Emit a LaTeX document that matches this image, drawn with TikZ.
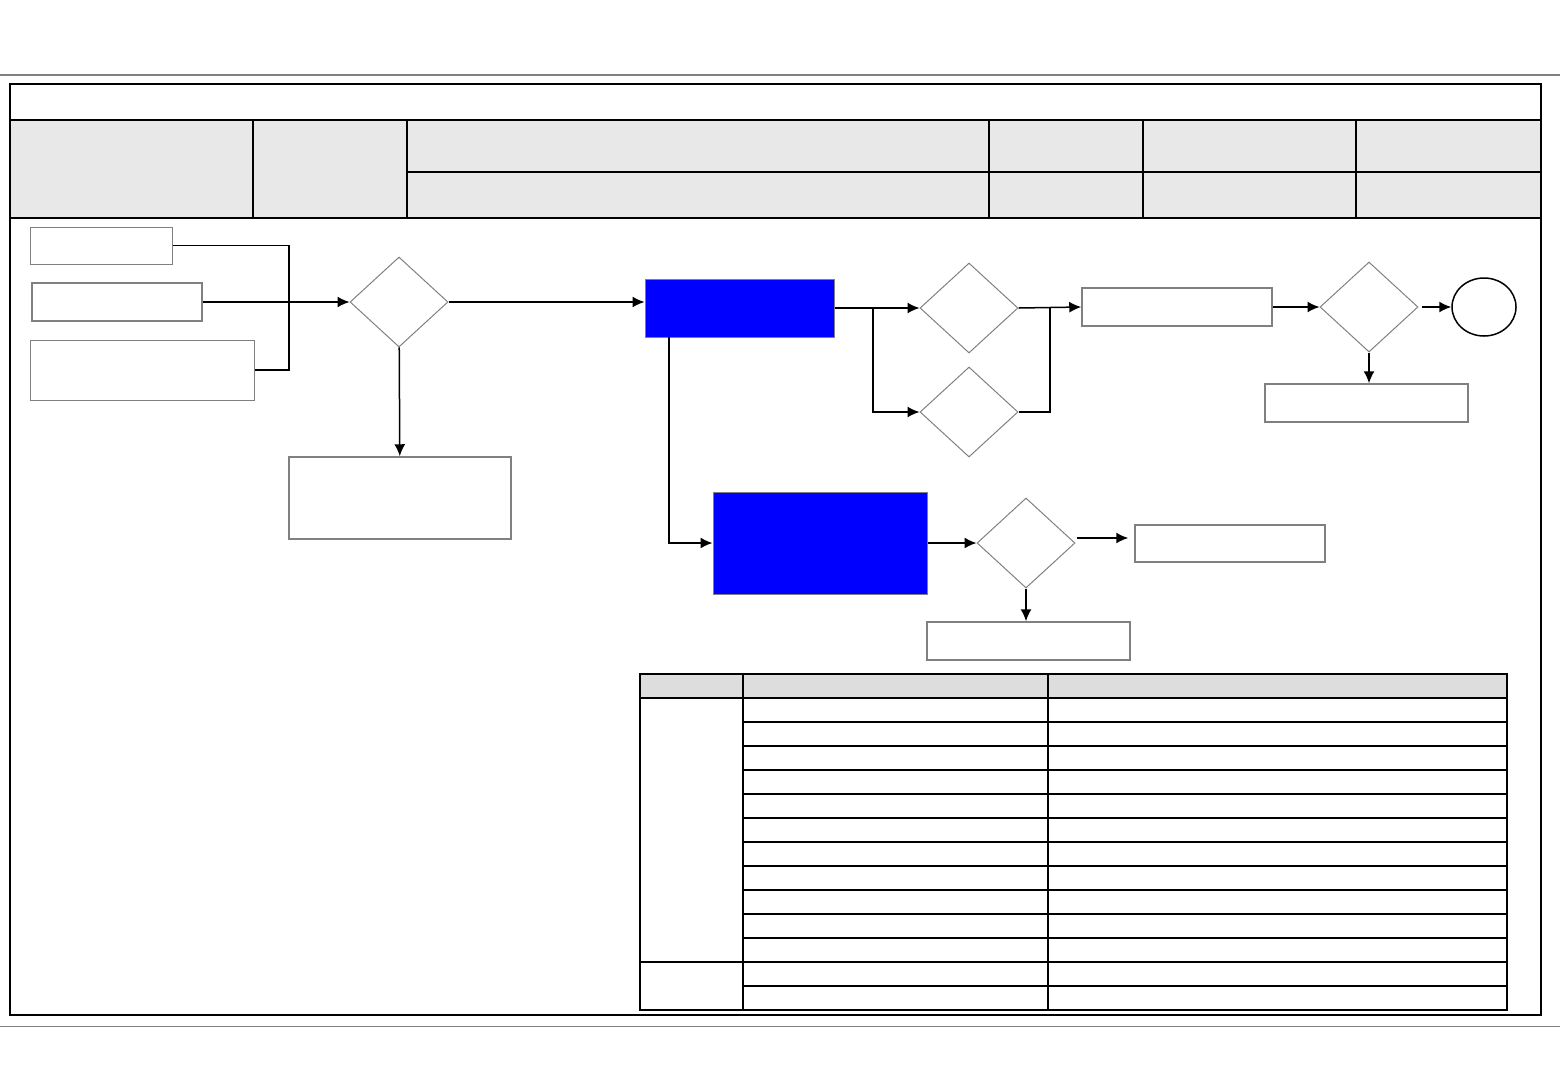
\documentclass[tikz,border=0pt]{standalone}
\usepackage{xcolor}
\usepackage{tikz}
\tikzset{>=latex}
\usetikzlibrary{
    positioning, % relative placement
    arrows.meta, % arrow tips
    shapes.geometric % diamond and ellipse
}

\begin{document}
\begin{tikzpicture}[x=1pt,y=-1pt]
    \useasboundingbox (0,0) rectangle (1560,1080);
    % blocks
    \tikzstyle{box}      = [rectangle, draw=gray, line width=1pt, inner sep=0pt, fill=white]
    \tikzstyle{bluebox}  = [box, fill=blue]
    \tikzstyle{decision} = [diamond, draw=gray, line width=1pt, inner sep=0pt,
                            minimum width=98pt, minimum height=90pt]
    \tikzstyle{line}     = [draw=black, line width=1.5pt, -{Latex[length=12pt,width=11pt]}]
    \tikzstyle{joint}    = [draw=black, line width=1.5pt]
    % ---- page rules and frame ----
    \draw[gray, line width=2pt] (0,75) -- (1560,75);
    \draw[gray, line width=1pt] (0,1026) -- (1560,1026);
    \fill[gray!18] (10,120) rectangle (1541,218);
    \draw[line width=2.5pt] (10,84) rectangle (1541,1015);
    \draw[line width=2.5pt] (10,120) -- (1541,120);
    \draw[line width=2.5pt] (10,218) -- (1541,218);
    \draw[line width=2pt] (407,172) -- (1541,172);
    \foreach \x in {253,407,989,1143,1356}
        \draw[line width=2pt] (\x,120) -- (\x,218);
    % ---- inputs ----
    \node[box, minimum width=142pt, minimum height=37pt] (in1) at (101,245.5) {};
    \node[box, line width=1.5pt, minimum width=170pt, minimum height=38pt] (in2) at (117,302) {};
    \node[box, minimum width=224pt, minimum height=60pt] (in3) at (142,370) {};
    \node[decision] (chk) at (399,302) {};
    \node[box, line width=1.5pt, minimum width=222pt, minimum height=82pt] (rej) at (400,498) {};
    \coordinate (merge) at (289,300);
    % ---- main process ----
    \node[bluebox, minimum width=189pt, minimum height=58pt] (proc) at (739.5,308) {};
    \node[decision] (testa) at (969,308) {};
    \node[decision] (testb) at (969,412) {};
    \node[box, line width=1.5pt, minimum width=190pt, minimum height=38pt] (step) at (1177,307) {};
    \node[decision] (final) at (1369,307) {};
    \node[ellipse, draw=black, line width=1.5pt, minimum width=64pt, minimum height=58pt] (done) at (1484,307) {};
    \node[box, line width=1.5pt, minimum width=203pt, minimum height=38pt] (fail) at (1366.5,403) {};
    \coordinate (split) at (873,308);
    \coordinate (join) at (1050,308);
    \coordinate (drop) at (669,337);
    % ---- second process ----
    \node[bluebox, minimum width=214pt, minimum height=102pt] (rework) at (820,543) {};
    \node[decision] (recheck) at (1026,543) {};
    \node[box, line width=1.5pt, minimum width=190pt, minimum height=37pt] (pass) at (1230,543.5) {};
    \node[box, line width=1.5pt, minimum width=203pt, minimum height=38pt] (scrap) at (1028.5,641) {};
    \coordinate (out) at (1077,538);
    % arrows
    \draw[joint] (in1.east) -| (merge) |- (in3.east);
    \draw[line] (in2) -- (chk);
    \draw[line] (chk) -- (rej);
    \draw[line] (chk.east) -- (chk.east -| proc.west);
    \draw[line] (proc) -- (testa);
    \draw[line] (split) |- (testb.west);
    \draw[joint] (testb.east) -| (join);
    \draw[line] (testa.east) -- (step.west);
    \draw[line] (step) -- (final);
    \draw[line] ([xshift=3pt]final.east) -- (done);
    \draw[line] (final) -- (final |- fail.north);
    \draw[line] (drop) |- (rework.west);
    \draw[line] (rework) -- (recheck);
    \draw[line] (out) -- ([xshift=-6pt]out -| pass.west);
    \draw[line] (recheck.south) -- (recheck.south |- scrap.north);
    % ---- table ----
    \fill[gray!27] (640,674) rectangle (1507,698);
    \foreach \y in {722,746,...,986}
        \draw[line width=1.2pt] (743,\y) -- (1507,\y);
    \draw[line width=1.2pt] (640,698) -- (1507,698);
    \draw[line width=1.2pt] (640,962) -- (1507,962);
    \draw[line width=1.2pt] (743,674) -- (743,1010);
    \draw[line width=1.2pt] (1048,674) -- (1048,1010);
    \draw[line width=1.2pt] (640,674) rectangle (1507,1010);
\end{tikzpicture}
\end{document}
